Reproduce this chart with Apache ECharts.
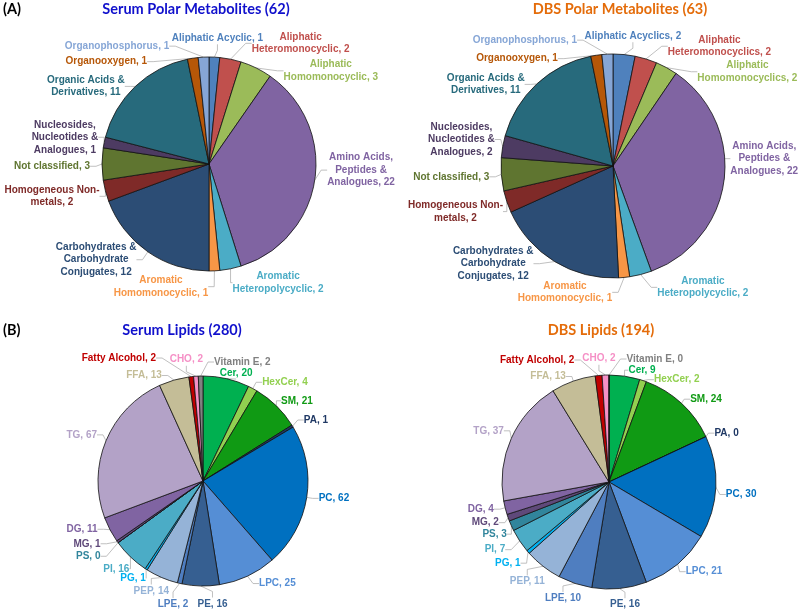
<!DOCTYPE html>
<html><head><meta charset="utf-8">
<script src="https://cdn.jsdelivr.net/npm/echarts@6/dist/echarts.min.js"></script>
<style>html,body{margin:0;padding:0;background:#fff}#c{width:800px;height:610px}</style>
</head><body><div id="c"></div>
<script>
// ---- Data ----
const serumPolarNames = ['Aliphatic Acyclic','Aliphatic\nHeteromonocyclic','Aliphatic\nHomomonocyclic','Amino Acids,\nPeptides &\nAnalogues','Aromatic\nHeteropolycyclic','Aromatic\nHomomonocyclic','Carbohydrates &\nCarbohydrate\nConjugates','Homogeneous Non-\nmetals','Not classified','Nucleosides,\nNucleotides &\nAnalogues','Organic Acids &\nDerivatives','Organooxygen','Organophosphorus'];
const serumPolarValues = [1,2,3,22,2,1,12,2,3,1,11,1,1];
const dbsPolarNames = ['Aliphatic Acyclics','Aliphatic\nHeteromonocyclics','Aliphatic\nHomomonocyclics','Amino Acids,\nPeptides &\nAnalogues','Aromatic\nHeteropolycyclic','Aromatic\nHomomonocyclic','Carbohydrates &\nCarbohydrate\nConjugates','Homogeneous Non-\nmetals','Not classified','Nucleosides,\nNucleotides &\nAnalogues','Organic Acids &\nDerivatives','Organooxygen','Organophosphorus'];
const dbsPolarValues = [2,2,2,22,2,1,12,2,3,2,11,1,1];
const lipidNames = ['Cer','HexCer','SM','PA','PC','LPC','PE','LPE','PEP','PG','PI','PS','MG','DG','TG','FFA','Fatty Alcohol','CHO','Vitamin E'];
const serumLipidValues = [20,4,21,1,62,25,16,2,14,1,16,0,1,11,67,13,2,2,2];
const dbsLipidValues = [9,2,24,0,30,21,16,10,11,1,7,3,2,4,37,13,2,2,0];
const titles = ['Serum Polar Metabolites (62)','DBS Polar Metabolites (63)','Serum Lipids (280)','DBS Lipids (194)'];
const panelLabels = ['(A)','(B)'];

// ---- Styles ----
const polarColors = ['#4f81bd','#c0504d','#9bbb59','#8064a2','#4bacc6','#f79646','#2c4d75','#7f2a28','#5f7530','#4d3b62','#276a7c','#b65708','#86a6d6'];
const lipidColors = ['#00b050','#92d050','#109a14','#1f3864','#0070c0','#558ed5','#365f91','#4f7ec0','#95b3d7','#00b0f0','#4bacc6','#31859c','#5f497a','#8064a2','#b3a2c7','#c4bd97','#c00000','#f590c6','#808080'];
const blue = '#1010cc', orange = '#e46c0a';
// label nudges [dx, dy] per slice (style only)
const nudgeSerumPolar = [[-112,-36],[12,-10],[-21,-24],[0,-11],[-50,8],[-109,-15],[0,3],[6,4],[0,-2],[6,-4],[4,0],[0,-4],[-26,-5]];
const nudgeDbsPolar = [[-109,-38],[12,-7],[-16,-23],[-6,-22],[-32,7],[-115,-15],[-10,-3],[8,8],[0,2],[4,-6],[2,1],[8,-4],[-22,-8]];
const nudgeSerumLipid = [[-16,0],[-7,-5],[-6,-1],[0,-3],[0,0],[1,2],[35,1],[44,16],[44,17],[34,19],[27,24],[5,26],[10,28],[10,28],[1,0],[53,-38],[34,-41],[61,-25],[78,-8]];
const nudgeDbsLipid = [[-5,0],[-19,-5],[-2,0],[-3,-1],[-2,7],[-2,3],[-18,10],[16,2],[6,0],[-2,-4],[-6,-3],[4,-4],[2,-1],[1,0],[4,-5],[52,-36],[47,-38],[68,-25],[82,-10]];

function mk(names, values, colors){
  return names.map((n,i)=>({name:n, value:values[i], itemStyle:{color:colors[i]}, label:{color:colors[i]}}));
}
function pie(data, cx, cy, r, nudge){
  return {
    type:'pie', center:[cx,cy], radius:[0,r], startAngle:90, clockwise:true,
    avoidLabelOverlap:true, animation:false, minShowLabelAngle:0,
    data:data,
    itemStyle:{borderColor:'#111', borderWidth:0.8},
    label:{show:true, position:'outside', overflow:'none', formatter:'{b}, {c}', fontFamily:'Liberation Sans, Arial, sans-serif', fontWeight:'bold', fontSize:10, lineHeight:12.5, distanceToLabelLine:2},
    labelLine:{show:true, length:6, length2:6, lineStyle:{color:'#b0b0b0', width:0.8}},
    labelLayout:function(p){
      const n = nudge[p.dataIndex], rc = p.labelRect;
      return {x: rc.x + rc.width/2 + n[0], y: rc.y + rc.height/2 + n[1], align:'center', verticalAlign:'middle'};
    },
    emphasis:{disabled:true}
  };
}
const tf = {fontFamily:'Lato, sans-serif', fontWeight:'bold', fontSize:14.5};
const chart = echarts.init(document.getElementById('c'), null, {renderer:'canvas'});
chart.setOption({
  backgroundColor:'#fff',
  title:[
    {text:titles[0], left:196, top:2, padding:0, textAlign:'center', textStyle:Object.assign({color:blue},tf)},
    {text:titles[1], left:620, top:2, padding:0, textAlign:'center', textStyle:Object.assign({color:orange},tf)},
    {text:titles[2], left:182, top:323, padding:0, textAlign:'center', textStyle:Object.assign({color:blue},tf)},
    {text:titles[3], left:601, top:323, padding:0, textAlign:'center', textStyle:Object.assign({color:orange},tf)},
    {text:panelLabels[0], left:3, top:2, padding:0, textStyle:Object.assign({color:'#000'},tf)},
    {text:panelLabels[1], left:3, top:323, padding:0, textStyle:Object.assign({color:'#000'},tf)}
  ],
  series:[
    pie(mk(serumPolarNames, serumPolarValues, polarColors), 209, 164, 107, nudgeSerumPolar),
    pie(mk(dbsPolarNames, dbsPolarValues, polarColors), 613, 166, 112, nudgeDbsPolar),
    pie(mk(lipidNames, serumLipidValues, lipidColors), 203, 481, 105, nudgeSerumLipid),
    pie(mk(lipidNames, dbsLipidValues, lipidColors), 609, 482, 107, nudgeDbsLipid)
  ]
});
</script></body></html>
